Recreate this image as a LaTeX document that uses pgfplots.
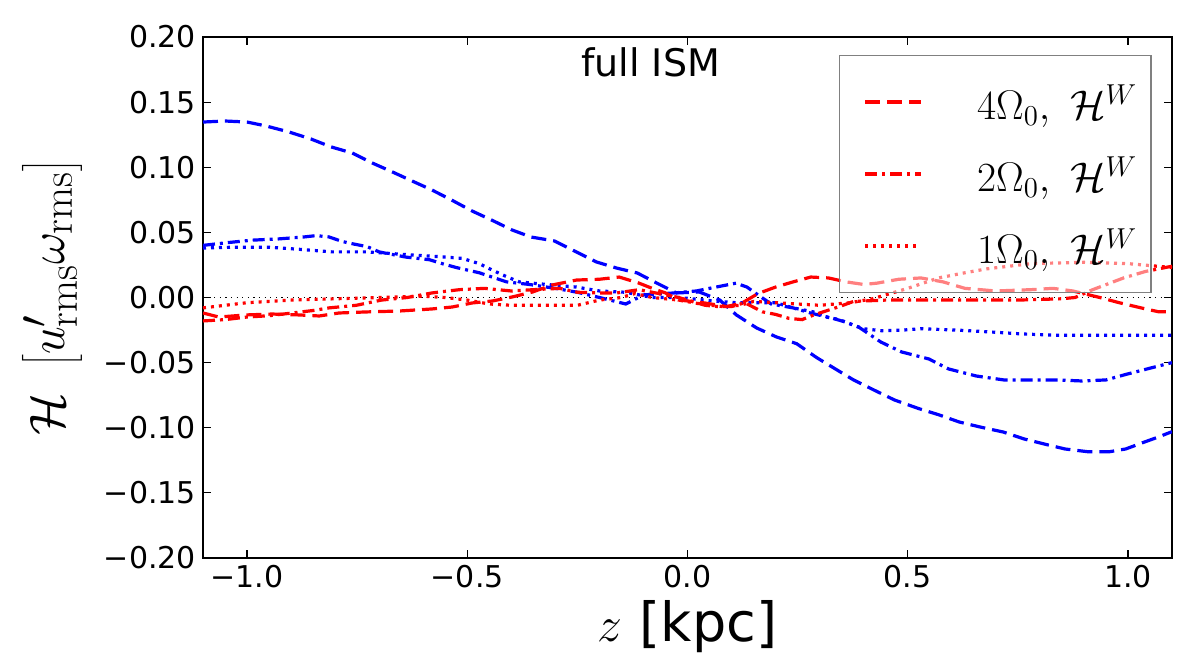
\documentclass[border=0pt]{standalone}
\usepackage[no-math]{fontspec}
\setmainfont{DejaVu Sans}
\usepackage{pgfplots}
\pgfplotsset{compat=1.18}
\newcommand{\lent}[1]{\raisebox{0pt}[19pt][0pt]{\hspace{25pt}#1\hspace{-7pt}}}
\begin{document}
\begin{tikzpicture}
\begin{axis}[
  scale only axis,
  width=484.5pt, height=260.5pt,
  xmin=-1.1, xmax=1.1, ymin=-0.2, ymax=0.2,
  xtick={-1,-0.5,0,0.5,1},
  xticklabels={−1.0,−0.5,0.0,0.5,1.0},
  ytick={-0.2,-0.15,-0.1,-0.05,0,0.05,0.1,0.15,0.2},
  yticklabels={−0.20,−0.15,−0.10,−0.05,0.00,0.05,0.10,0.15,0.20},
  ticklabel style={font=\fontsize{15}{18}\selectfont},
  tick align=inside, xtick pos=both, ytick pos=both,
  major tick length=4pt,
  every tick/.style={black, line width=0.6pt},
  axis line style={line width=0.8pt},
  title={full ISM},
  title style={at={(axis description cs:0.462,0.902)}, anchor=base, font=\fontsize{19}{22}\selectfont},
  xlabel={$z$ [kpc]},
  xlabel style={at={(axis description cs:0.5,-0.1612)}, anchor=base, font=\fontsize{27}{30}\selectfont},
  ylabel={$\mathcal{H}\ \left[u'_{\mathrm{rms}}\omega_{\mathrm{rms}}\right]$},
  ylabel style={at={(axis description cs:-0.1558,0.5)}, anchor=center, font=\fontsize{28}{31}\selectfont},
  legend cell align=left,
  legend image code/.code={\draw[#1] (0pt,0pt) -- (28pt,0pt);},
  legend style={at={(axis description cs:0.979,0.9655)}, anchor=north east,
    draw=gray, line width=0.6pt, fill=white, fill opacity=0.5, draw opacity=1, text opacity=1,
    font=\fontsize{20.5}{24}\selectfont, inner xsep=12pt, inner ysep=11pt, row sep=11.5pt},
]
\addplot[black, line width=0.5pt, dash pattern=on 0.6pt off 2.2pt, forget plot] coordinates {(-1.1,0) (1.1,0)};

% blue dashed
\addplot[blue, line width=1.6pt, dash pattern=on 7.5pt off 3.5pt, forget plot] coordinates {
(-1.10,0.1347) (-1.05,0.1355) (-1.00,0.1347) (-0.957,0.1317) (-0.905,0.1271) (-0.855,0.1217)
(-0.809,0.1156) (-0.761,0.1109) (-0.716,0.1033) (-0.670,0.0964) (-0.625,0.0894) (-0.580,0.0825)
(-0.536,0.0749) (-0.489,0.0664) (-0.445,0.0595) (-0.398,0.0518) (-0.355,0.0464) (-0.302,0.0434)
(-0.252,0.0349) (-0.207,0.0273) (-0.161,0.0226) (-0.114,0.0188) (-0.070,0.0111) (-0.025,0.0035)
(0.027,0.0042) (0.073,-0.0019) (0.111,-0.0134) (0.157,-0.0234) (0.202,-0.0303) (0.248,-0.0355)
(0.293,-0.0461) (0.332,-0.0541) (0.377,-0.0633) (0.423,-0.071) (0.470,-0.0787) (0.525,-0.0853)
(0.570,-0.090) (0.617,-0.0956) (0.664,-0.0994) (0.717,-0.1033) (0.764,-0.1086) (0.810,-0.1125)
(0.857,-0.1163) (0.911,-0.1185) (0.957,-0.1185) (0.995,-0.1163) (1.034,-0.1114) (1.07,-0.107) (1.10,-0.103)};

% blue dash-dot
\addplot[blue, line width=1.6pt, dash pattern=on 6pt off 2.5pt on 1.5pt off 2.5pt, forget plot] coordinates {
(-1.10,0.040) (-1.048,0.042) (-0.989,0.044) (-0.927,0.045) (-0.870,0.0465) (-0.843,0.0475)
(-0.814,0.0465) (-0.784,0.043) (-0.757,0.041) (-0.727,0.039) (-0.70,0.035) (-0.670,0.033)
(-0.639,0.031) (-0.586,0.029) (-0.557,0.026) (-0.525,0.023) (-0.473,0.019) (-0.411,0.012)
(-0.359,0.010) (-0.30,0.007) (-0.25,0.004) (-0.20,0.000) (-0.14,-0.005) (-0.10,0.002)
(-0.03,0.0035) (0.02,0.005) (0.08,0.009) (0.11,0.011) (0.135,0.008) (0.16,0.002) (0.19,-0.005)
(0.24,-0.008) (0.28,-0.012) (0.33,-0.016) (0.36,-0.019) (0.39,-0.023) (0.439,-0.0342)
(0.486,-0.0418) (0.548,-0.0472) (0.593,-0.0549) (0.656,-0.0603) (0.718,-0.0633) (0.780,-0.0633)
(0.841,-0.0633) (0.895,-0.0641) (0.95,-0.0633) (0.995,-0.0591) (1.043,-0.0549) (1.10,-0.050)};

% blue dotted
\addplot[blue, line width=1.6pt, dash pattern=on 1.5pt off 2.5pt, forget plot] coordinates {
(-1.10,0.038) (-1.03,0.0386) (-0.95,0.0386) (-0.882,0.037) (-0.807,0.035) (-0.73,0.035)
(-0.684,0.034) (-0.625,0.0326) (-0.548,0.031) (-0.511,0.030) (-0.473,0.026) (-0.443,0.021)
(-0.411,0.016) (-0.382,0.012) (-0.352,0.011) (-0.307,0.0096) (-0.252,0.008) (-0.20,0.005)
(-0.14,0.004) (-0.08,0.0) (-0.02,0.0) (0.07,-0.003) (0.11,-0.004) (0.20,-0.004) (0.24,-0.008)
(0.285,-0.011) (0.315,-0.015) (0.345,-0.017) (0.375,-0.021) (0.40,-0.024) (0.44,-0.0255)
(0.49,-0.025) (0.53,-0.024) (0.61,-0.025) (0.69,-0.0265) (0.76,-0.028) (0.84,-0.029)
(0.92,-0.029) (1.0,-0.029) (1.1,-0.029)};

% red dashed
\addplot[red, line width=1.6pt, dash pattern=on 7.5pt off 3.5pt] coordinates {
(-1.10,-0.0119) (-1.064,-0.015) (-1.002,-0.0134) (-0.943,-0.0127) (-0.882,-0.0134) (-0.836,-0.0142)
(-0.791,-0.0119) (-0.730,-0.0111) (-0.655,-0.0104) (-0.580,-0.0088) (-0.534,-0.0073) (-0.489,-0.0042)
(-0.443,-0.0027) (-0.398,0.0004) (-0.352,0.0042) (-0.307,0.0096) (-0.252,0.0134) (-0.20,0.014)
(-0.155,0.0157) (-0.11,0.011) (-0.08,0.007) (-0.05,0.0035) (-0.02,-0.002) (0.01,-0.003)
(0.035,-0.004) (0.09,-0.007) (0.125,-0.004) (0.16,0.003) (0.2,0.008) (0.24,0.012) (0.28,0.0157)
(0.32,0.015) (0.36,0.012) (0.40,0.010) (0.43,0.011) (0.48,0.014) (0.53,0.015) (0.58,0.012)
(0.63,0.007) (0.7,0.005) (0.78,0.006) (0.83,0.007) (0.875,0.005) (0.936,0.0) (0.98,-0.004)
(1.03,-0.008) (1.07,-0.011) (1.10,-0.011)};
\addlegendentry{\lent{$4\Omega_0,\ \mathcal{H}^W$}}

% red dash-dot
\addplot[red, line width=1.6pt, dash pattern=on 6pt off 2.5pt on 1.5pt off 2.5pt] coordinates {
(-1.10,-0.018) (-1.05,-0.017) (-1.0,-0.015) (-0.95,-0.014) (-0.90,-0.012) (-0.85,-0.010)
(-0.814,-0.008) (-0.752,-0.006) (-0.695,-0.002) (-0.636,0.0) (-0.58,0.0035) (-0.518,0.006)
(-0.461,0.007) (-0.40,0.005) (-0.35,0.006) (-0.29,0.007) (-0.25,0.004) (-0.2,0.0035)
(-0.16,0.0035) (-0.11,0.006) (-0.08,0.004) (-0.05,0.002) (-0.02,0.0) (0.01,-0.003) (0.04,-0.006)
(0.07,-0.007) (0.10,-0.007) (0.13,-0.004) (0.17,-0.011) (0.2,-0.013) (0.23,-0.016) (0.26,-0.017)
(0.29,-0.013) (0.345,-0.007) (0.377,-0.003) (0.45,-0.002) (0.55,-0.002) (0.65,-0.002)
(0.75,-0.002) (0.85,-0.001) (0.88,0.0) (0.92,0.006) (0.99,0.015) (1.04,0.020) (1.10,0.024)};
\addlegendentry{\lent{$2\Omega_0,\ \mathcal{H}^W$}}

% red dotted
\addplot[red, line width=1.6pt, dash pattern=on 1.5pt off 2.5pt] coordinates {
(-1.10,-0.008) (-1.05,-0.006) (-1.0,-0.004) (-0.9,-0.002) (-0.8,-0.001) (-0.7,0.0) (-0.6,0.001)
(-0.55,0.0) (-0.5,-0.002) (-0.45,-0.005) (-0.4,-0.006) (-0.3,-0.006) (-0.25,-0.006) (-0.2,-0.002)
(-0.15,0.0) (-0.12,0.003) (-0.08,0.0) (-0.02,-0.002) (0.03,-0.005) (0.08,-0.007) (0.12,-0.006)
(0.15,-0.003) (0.2,-0.004) (0.3,-0.006) (0.37,-0.004) (0.42,-0.001) (0.46,0.003) (0.5,0.007)
(0.57,0.015) (0.63,0.019) (0.68,0.022) (0.78,0.026) (0.9,0.027) (1.0,0.026) (1.1,0.023)};
\addlegendentry{\lent{$1\Omega_0,\ \mathcal{H}^W$}}
\end{axis}
\pgfresetboundingbox
\useasboundingbox (-101.5pt,-49pt) rectangle (496.5pt,279pt);
\end{tikzpicture}
\end{document}
